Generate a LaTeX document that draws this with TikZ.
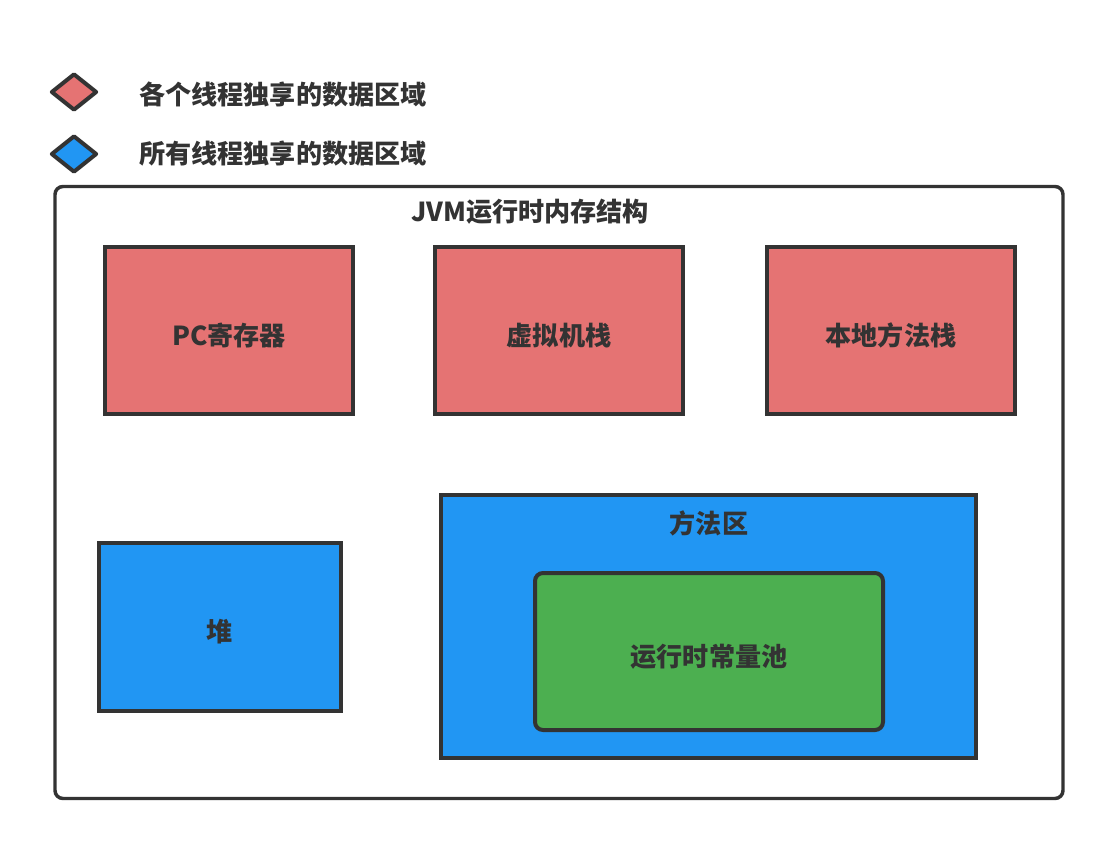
\documentclass[tikz,border=0pt]{standalone}
\usepackage{fontspec}
\setmainfont{Noto Sans CJK SC}
\usepackage{tikz}
\usetikzlibrary{shapes.geometric}
\usetikzlibrary{positioning}
\definecolor{privred}{HTML}{E57373}
\definecolor{sharedblue}{HTML}{2196F3}
\definecolor{poolgreen}{HTML}{4CAF50}
\definecolor{inkgray}{HTML}{333333}
\tikzset{
  label text/.style={text=inkgray, font=\bfseries\fontsize{19.6}{23}\selectfont, inner sep=0pt},
  region/.style 2 args={
    draw=inkgray, line width=3pt, label text, text height=22pt, text depth=0pt,
    minimum width=#1*0.75pt, minimum height=#2*0.75pt
  },
  legendkey/.style={
    diamond, draw=inkgray, line width=3pt, line join=round, inner sep=0pt,
    minimum width=46*0.75pt, minimum height=37*0.75pt
  }
}

\begin{document}
\begin{tikzpicture}[x=0.75pt, y=-0.75pt]
  \useasboundingbox (0,0) rectangle (1114,850);

  % Legend
  \node[legendkey, fill=privred] (privkey) at (74,92) {};
  \node[legendkey, fill=sharedblue] (sharedkey) at (74,154) {};
  \node[label text, anchor=west, right=30pt of privkey, yshift=-2pt] (privtext) {各个线程独享的数据区域};
  \node[label text, anchor=west, right=30pt of sharedkey] (sharedtext) {所有线程独享的数据区域};

  % Outer frame
  \node[region={1008}{612}, line width=2.6pt, rounded corners=6pt] (jvm) at (559,492.5) {};
  \node[label text] (jvmtitle) at (530,212) {JVM运行时内存结构};

  % Thread-private areas
  \node[region={248}{167}, fill=privred] (pcreg) at (229,330.5) {PC寄存器};
  \node[region={248}{167}, fill=privred] (vmstack) at (559,330.5) {虚拟机栈};
  \node[region={248}{167}, fill=privred] (nativestack) at (891,330.5) {本地方法栈};

  % Shared areas
  \node[region={242}{168}, fill=sharedblue] (heap) at (220,627) {堆};
  \node[region={535}{263}, fill=sharedblue] (methodarea) at (708.5,626.5) {};
  \node[label text] (methodtitle) at (709,523) {方法区};
  \node[region={348}{157}, fill=poolgreen, rounded corners=6pt] (constpool) at (709,651.5) {运行时常量池};

\end{tikzpicture}
\end{document}
